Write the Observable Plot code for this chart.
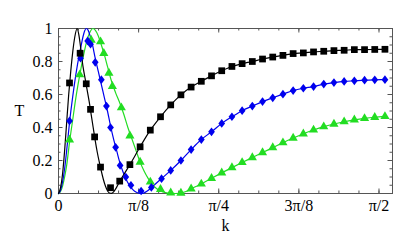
<!DOCTYPE html>
<html><head><meta charset="utf-8">
<script src="https://cdn.jsdelivr.net/npm/d3@7"></script>
<script src="https://cdn.jsdelivr.net/npm/@observablehq/plot@0.6"></script>
<style>body{margin:0;background:#fff}</style>
</head><body><div id="chart"></div>
<script>
// ---- tick definitions ----
const xMajor = [0, Math.PI/8, Math.PI/4, 3*Math.PI/8, Math.PI/2];
const xLabels = ["0", "π/8", "π/4", "3π/8", "π/2"];
const xMinor = d3.range(0, 17).map(i => i*Math.PI/32);
const yMajor = [0, 0.2, 0.4, 0.6, 0.8, 1];
const yMinor = d3.range(0, 21).map(i => i*0.05);

// ---- black series ----
const blackLineK = [0,0.01,0.02,0.03,0.04,0.05,0.06,0.07,0.08,0.091,0.10,0.11,0.12,0.13,0.14,0.15,0.16,0.17,0.18,0.19,0.20,0.21,0.22,0.23,0.24,0.25,0.26,0.27,0.28,0.29,0.30,0.32,0.35,0.40,0.45,0.50,0.55,0.60,0.65,0.70,0.75,0.80,0.85,0.90,0.95,1.00,1.05,1.10,1.15,1.20,1.25,1.30,1.35,1.40,1.45,1.50,1.55,1.60];
const blackLineT = [0,0.035,0.12,0.26,0.43,0.6,0.74,0.86,0.95,1.0,0.96,0.87,0.77,0.7,0.63,0.56,0.48,0.40,0.32,0.25,0.19,0.135,0.085,0.045,0.017,0.003,0.001,0.01,0.028,0.05,0.073,0.115,0.175,0.283,0.384,0.465,0.537,0.598,0.645,0.68,0.713,0.744,0.77,0.787,0.80,0.815,0.827,0.837,0.848,0.852,0.858,0.862,0.866,0.868,0.872,0.872,0.873,0.874];
const blackDotK = [0.054,0.106,0.136,0.157,0.177,0.206,0.255,0.30,0.35,0.40,0.45,0.50,0.55,0.60,0.65,0.70,0.75,0.80,0.85,0.90,0.95,1.00,1.05,1.10,1.15,1.20,1.25,1.30,1.35,1.40,1.45,1.50,1.55,1.60];
const blackDotT = [0.67,0.85,0.665,0.51,0.343,0.16,0.035,0.075,0.175,0.283,0.384,0.465,0.537,0.598,0.645,0.68,0.713,0.744,0.77,0.787,0.80,0.815,0.827,0.837,0.848,0.852,0.858,0.862,0.866,0.868,0.872,0.872,0.873,0.874];

// ---- blue series ----
const blueLineK = [0,0.01,0.02,0.03,0.04,0.054,0.07,0.085,0.10,0.11,0.12,0.128,0.136,0.145,0.155,0.165,0.18,0.195,0.21,0.225,0.24,0.255,0.27,0.285,0.30,0.315,0.33,0.345,0.36,0.375,0.39,0.405,0.42,0.435,0.45,0.475,0.505,0.55,0.60,0.65,0.70,0.75,0.80,0.85,0.90,0.95,1.00,1.05,1.10,1.15,1.20,1.25,1.30,1.35,1.40,1.45,1.50,1.55,1.60];
const blueLineT = [0,0.02,0.07,0.15,0.26,0.43,0.59,0.72,0.83,0.89,0.95,0.985,1.0,0.99,0.955,0.91,0.82,0.74,0.66,0.58,0.50,0.41,0.33,0.26,0.19,0.135,0.09,0.055,0.03,0.012,0.003,0.0,0.004,0.015,0.03,0.058,0.09,0.14,0.20,0.266,0.327,0.374,0.425,0.465,0.502,0.53,0.557,0.58,0.602,0.624,0.638,0.648,0.663,0.672,0.679,0.683,0.687,0.689,0.69];
const blueDotK = [0.054,0.108,0.143,0.157,0.18,0.21,0.235,0.255,0.28,0.302,0.33,0.355,0.405,0.455,0.505,0.55,0.60,0.65,0.70,0.75,0.80,0.85,0.90,0.95,1.00,1.05,1.10,1.15,1.20,1.25,1.30,1.35,1.40,1.45,1.50,1.55,1.60];
const blueDotT = [0.44,0.82,0.925,0.905,0.795,0.69,0.53,0.40,0.28,0.17,0.10,0.05,0.015,0.037,0.09,0.14,0.20,0.266,0.327,0.374,0.425,0.465,0.502,0.53,0.557,0.58,0.602,0.624,0.638,0.648,0.663,0.672,0.679,0.683,0.687,0.689,0.69];

// ---- green series ----
const greenLineK = [0,0.01,0.02,0.03,0.04,0.054,0.07,0.085,0.10,0.115,0.13,0.145,0.157,0.168,0.18,0.195,0.21,0.225,0.24,0.26,0.28,0.30,0.32,0.34,0.36,0.38,0.40,0.42,0.44,0.46,0.48,0.50,0.525,0.55,0.575,0.60,0.625,0.65,0.70,0.75,0.80,0.85,0.90,0.95,1.00,1.05,1.10,1.15,1.20,1.25,1.30,1.35,1.40,1.45,1.50,1.55,1.60];
const greenLineT = [0,0.012,0.045,0.1,0.17,0.31,0.45,0.58,0.69,0.79,0.88,0.95,0.985,1.0,0.99,0.955,0.9,0.84,0.77,0.68,0.61,0.55,0.48,0.40,0.33,0.26,0.19,0.135,0.09,0.055,0.03,0.015,0.005,0.001,0.0,0.003,0.012,0.028,0.058,0.092,0.125,0.157,0.188,0.218,0.248,0.278,0.308,0.336,0.362,0.385,0.405,0.421,0.435,0.446,0.455,0.462,0.467];
const greenDotK = [0.054,0.104,0.16,0.206,0.222,0.247,0.264,0.308,0.35,0.40,0.45,0.50,0.55,0.60,0.65,0.70,0.75,0.80,0.85,0.90,0.95,1.00,1.05,1.10,1.15,1.20,1.25,1.30,1.35,1.40,1.45,1.50,1.55,1.60];
const greenDotT = [0.325,0.72,0.93,0.92,0.85,0.73,0.65,0.52,0.35,0.19,0.07,0.025,0.004,0.003,0.028,0.058,0.092,0.125,0.157,0.188,0.218,0.248,0.278,0.308,0.336,0.362,0.385,0.405,0.421,0.435,0.446,0.455,0.462,0.467];

const W = 415, H = 240, mT = 28, mB = 47, mL = 58, mR = 23;
const ph = H - mT - mB, pw = W - mL - mR;
const zip = (K, T) => K.map((k, i) => ({k, t: T[i]}));
const frameColor = "#555";
const BLACK = "#000", BLUE = "#0000ee", GREEN = "#22dd22";

const tallDiamond = {
  draw(ctx, size) {
    const s = Math.sqrt(size) / 7;
    const w = 3.4 * s, h = 4.4 * s;
    ctx.moveTo(0, -h); ctx.lineTo(w, 0); ctx.lineTo(0, h); ctx.lineTo(-w, 0); ctx.closePath();
  }
};

const chart = Plot.plot({
  width: W, height: H,
  marginTop: mT, marginBottom: mB, marginLeft: mL, marginRight: mR,
  x: {domain: [0, 1.637]},
  y: {domain: [0, 1]},
  style: {fontFamily: "'Liberation Serif', 'DejaVu Serif', serif", fontSize: "16px", background: "#fff", color: "#000"},
  marks: [
    Plot.frame({stroke: frameColor, strokeWidth: 1}),
    // bottom / top x ticks
    Plot.tickX(xMinor, {x: d => d, insetTop: ph - 2.5, stroke: frameColor}),
    Plot.tickX(xMajor, {x: d => d, insetTop: ph - 4.5, stroke: frameColor}),
    Plot.tickX(xMinor, {x: d => d, insetBottom: ph - 2.5, stroke: frameColor}),
    Plot.tickX(xMajor, {x: d => d, insetBottom: ph - 4.5, stroke: frameColor}),
    // left / right y ticks
    Plot.tickY(yMinor, {y: d => d, insetRight: pw - 2.5, stroke: frameColor}),
    Plot.tickY(yMajor, {y: d => d, insetRight: pw - 4.5, stroke: frameColor}),
    Plot.tickY(yMinor, {y: d => d, insetLeft: pw - 2.5, stroke: frameColor}),
    Plot.tickY(yMajor, {y: d => d, insetLeft: pw - 4.5, stroke: frameColor}),
    Plot.axisX({ticks: xMajor, tickFormat: d => xLabels[xMajor.indexOf(d)], tickSize: 0, tickPadding: 6, label: null}),
    Plot.axisY({ticks: yMajor, tickFormat: d => String(+d.toFixed(1)), tickSize: 0, tickPadding: 6, label: null}),
    Plot.text(["T"], {frameAnchor: "left", dx: -44, text: d => d, fontSize: 16}),
    Plot.text(["k"], {frameAnchor: "bottom", dy: 37, text: d => d, fontSize: 16}),
    // lines
    Plot.line(zip(greenLineK, greenLineT), {x: "k", y: "t", stroke: GREEN, strokeWidth: 1.2, curve: "monotone-x"}),
    Plot.line(zip(blueLineK, blueLineT), {x: "k", y: "t", stroke: BLUE, strokeWidth: 1.2, curve: "monotone-x"}),
    Plot.line(zip(blackLineK, blackLineT), {x: "k", y: "t", stroke: BLACK, strokeWidth: 1.2, curve: "monotone-x"}),
    // markers
    Plot.dot(zip(greenDotK, greenDotT), {x: "k", y: "t", symbol: "triangle", fill: GREEN, r: 3.4}),
    Plot.dot(zip(blueDotK, blueDotT), {x: "k", y: "t", symbol: tallDiamond, fill: BLUE, r: 3.9}),
    Plot.dot(zip(blackDotK, blackDotT), {x: "k", y: "t", symbol: "square", fill: BLACK, r: 3.8})
  ]
});
document.getElementById("chart").appendChild(chart);
</script>
</body></html>
